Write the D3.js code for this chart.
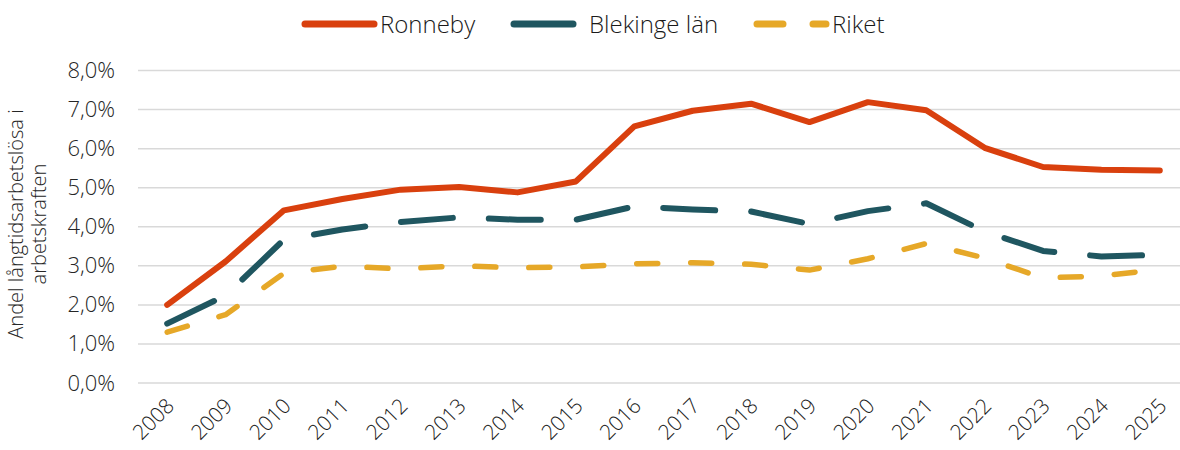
<!DOCTYPE html>
<html>
<head>
<meta charset="utf-8">
<script src="https://cdn.jsdelivr.net/npm/d3@7"></script>
<style>
  html, body { margin: 0; padding: 0; background: #fff; }
  svg { display: block; font-family: "Open Sans", Lato, sans-serif; font-weight: 300; }
</style>
</head>
<body>
<svg id="chart" width="1180" height="450"></svg>
<script>
const years = ["2008","2009","2010","2011","2012","2013","2014","2015","2016","2017","2018","2019","2020","2021","2022","2023","2024","2025"];
const ronneby = [2.0, 3.11, 4.42, 4.71, 4.95, 5.02, 4.88, 5.16, 6.57, 6.97, 7.15, 6.68, 7.19, 6.98, 6.02, 5.53, 5.46, 5.44];
const blekinge = [1.52, 2.24, 3.67, 3.93, 4.12, 4.24, 4.18, 4.18, 4.52, 4.44, 4.39, 4.07, 4.4, 4.6, 3.88, 3.38, 3.24, 3.28];
const riket = [1.3, 1.75, 2.81, 2.99, 2.92, 3.0, 2.95, 2.97, 3.05, 3.08, 3.04, 2.89, 3.18, 3.57, 3.2, 2.69, 2.74, 2.91];
const seriesNames = ["Ronneby", "Blekinge län", "Riket"];
const yTicks = [0, 1, 2, 3, 4, 5, 6, 7, 8];
const yTitleLines = ["Andel långtidsarbetslösa i", "arbetskraften"];

const colors = ["#D9400E", "#1F5660", "#E6A828"];
const dashes = [null, "52,36", "21,33"];
const widths = [6, 6, 5.5];

const svg = d3.select("#chart");
const x = d3.scaleBand().domain(years).range([138, 1189]);
const y = d3.scaleLinear().domain([0, 8]).range([383, 70.5]);

// gridlines
svg.append("g").selectAll("line").data(yTicks).join("line")
  .attr("x1", 138).attr("x2", 1189)
  .attr("y1", d => y(d)).attr("y2", d => y(d))
  .attr("stroke", "#d9d9d9").attr("stroke-width", 1.5);

// y axis labels
const fmt = d => d3.format(".1f")(d).replace(".", ",") + "%";
const yAxis = d3.axisLeft(y).tickValues(yTicks).tickFormat(fmt).tickSize(0).tickPadding(0);
svg.append("g").attr("transform", "translate(115,0)").call(yAxis)
  .call(g => g.select(".domain").remove())
  .call(g => g.selectAll("text").attr("font-size", 22).attr("fill", "#262626")
    .attr("font-family", "'Open Sans', Lato, sans-serif").attr("font-weight", 300));

// x axis labels
const xAxis = d3.axisBottom(x).tickSize(0).tickPadding(0);
svg.append("g").attr("transform", "translate(0,383)").call(xAxis)
  .call(g => g.select(".domain").remove())
  .call(g => g.selectAll("text")
    .attr("font-size", 21).attr("fill", "#1a1a1a")
    .attr("font-family", "'Open Sans', Lato, sans-serif").attr("font-weight", 300)
    .attr("text-anchor", "end")
    .attr("transform", "translate(3,19) rotate(-45)")
    .attr("dy", "0.35em").attr("y", 0).attr("x", 0));

// y title
const yt = svg.append("text").attr("transform", "translate(26,224) rotate(-90)")
  .attr("text-anchor", "middle").attr("font-size", 20).attr("fill", "#262626");
yTitleLines.forEach((t, i) => {
  yt.append("tspan").attr("x", 0).attr("y", i === 0 ? -3 : 20).text(t);
});

// lines
const allData = [ronneby, blekinge, riket];
const line = d3.line().x((d, i) => x(years[i]) + x.bandwidth() / 2).y(d => y(d));
[2, 1, 0].forEach(k => {
  svg.append("path").datum(allData[k])
    .attr("d", line)
    .attr("fill", "none")
    .attr("stroke", colors[k])
    .attr("stroke-width", widths[k])
    .attr("stroke-linecap", "round")
    .attr("stroke-linejoin", "round")
    .attr("stroke-dasharray", dashes[k]);
});

// legend
const legend = [
  { x1: 305, x2: 374, tx: 380, dash: null },
  { x1: 514, x2: 584, tx: 589, dash: "59,40" },
  { x1: 757, x2: 826, tx: 832, dash: "26,30" }
];
legend.forEach((l, i) => {
  svg.append("line").attr("x1", l.x1).attr("x2", l.x2).attr("y1", 24).attr("y2", 24)
    .attr("stroke", colors[i]).attr("stroke-width", 7).attr("stroke-linecap", "round")
    .attr("stroke-dasharray", l.dash);
  svg.append("text").attr("x", l.tx).attr("y", 32.5).attr("font-size", 24).attr("fill", "#1a1a1a")
    .text(seriesNames[i]);
});
</script>
</body>
</html>
